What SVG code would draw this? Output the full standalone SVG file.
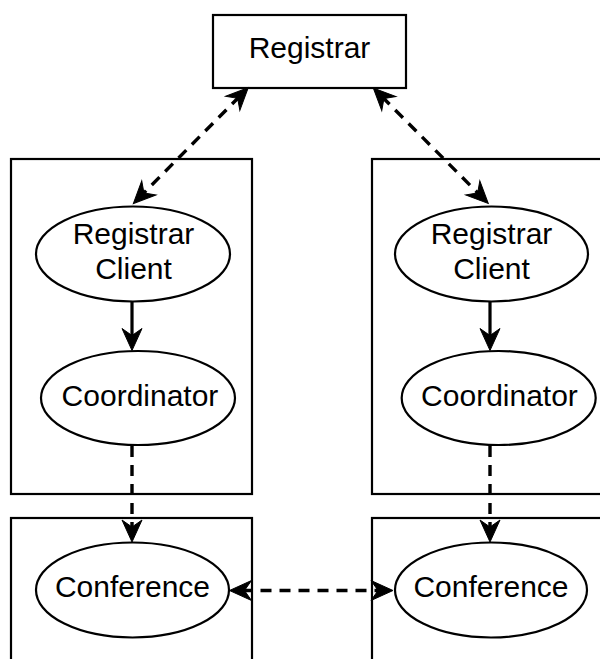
<svg xmlns="http://www.w3.org/2000/svg" width="600" height="659" viewBox="0 0 600 659">
<style>
.box{fill:#fff;stroke:#000;stroke-width:2.2}
.node{fill:#fff;stroke:#000;stroke-width:2.2}
.lbl{font-family:"Liberation Sans",Arial,sans-serif;font-size:30px;fill:#000;text-anchor:middle}
.solid{fill:none;stroke:#000;stroke-width:3.2;marker-end:url(#ah)}
.dash{fill:none;stroke:#000;stroke-width:3.4;stroke-dasharray:11 8;marker-end:url(#ah)}
.both{marker-start:url(#ah)}
</style>
<defs>
<marker id="ah" markerUnits="userSpaceOnUse" markerWidth="30" markerHeight="26" viewBox="-2 -13 30 26" refX="10" refY="0" orient="auto-start-reverse" overflow="visible">
<path d="M0,-10 L22,0 L0,10 L7,0 Z" fill="#000" stroke="#000" stroke-width="1" stroke-linejoin="miter"/>
</marker>
</defs>
<rect width="600" height="659" fill="#fff"/>
<g id="container-left-top"><rect class="box" x="11" y="159" width="241" height="335"/></g>
<g id="container-right-top"><rect class="box" x="372" y="159" width="240" height="335"/></g>
<g id="container-left-bottom"><rect class="box" x="11" y="518" width="241" height="160"/></g>
<g id="container-right-bottom"><rect class="box" x="372" y="518" width="240" height="160"/></g>
<g id="registrar"><rect class="box" x="213" y="15" width="193" height="73"/><text class="lbl" x="309.5" y="58">Registrar</text></g>
<g id="registrar-client-left"><ellipse class="node" cx="133" cy="254" rx="97" ry="47.5"/><text class="lbl" x="133.5" y="244">Registrar</text><text class="lbl" x="133.5" y="279">Client</text></g>
<g id="coordinator-left"><ellipse class="node" cx="138" cy="398" rx="97" ry="47"/><text class="lbl" x="140" y="406">Coordinator</text></g>
<g id="conference-left"><ellipse class="node" cx="132.5" cy="590" rx="96.5" ry="47.5"/><text class="lbl" x="132.5" y="597">Conference</text></g>
<g id="registrar-client-right"><ellipse class="node" cx="491.5" cy="254" rx="96.5" ry="47.5"/><text class="lbl" x="491.5" y="244">Registrar</text><text class="lbl" x="491.5" y="279">Client</text></g>
<g id="coordinator-right"><ellipse class="node" cx="498.7" cy="398" rx="97" ry="47"/><text class="lbl" x="499.5" y="406">Coordinator</text></g>
<g id="conference-right"><ellipse class="node" cx="491" cy="590" rx="96" ry="47.5"/><text class="lbl" x="491" y="597">Conference</text></g>
<g id="connectors">
<line class="dash both" x1="239.8" y1="96.2" x2="141.8" y2="195"/>
<line class="dash both" x1="381.8" y1="96.5" x2="479.8" y2="195"/>
<line class="solid" x1="132" y1="302" x2="132" y2="338.5"/>
<line class="solid" x1="490" y1="302" x2="490" y2="338.5"/>
<line class="dash" x1="132" y1="446" x2="132" y2="530"/>
<line class="dash" x1="490" y1="446" x2="490" y2="530"/>
<line class="dash both" x1="241.5" y1="590.5" x2="381" y2="590.5"/>
</g>
</svg>
